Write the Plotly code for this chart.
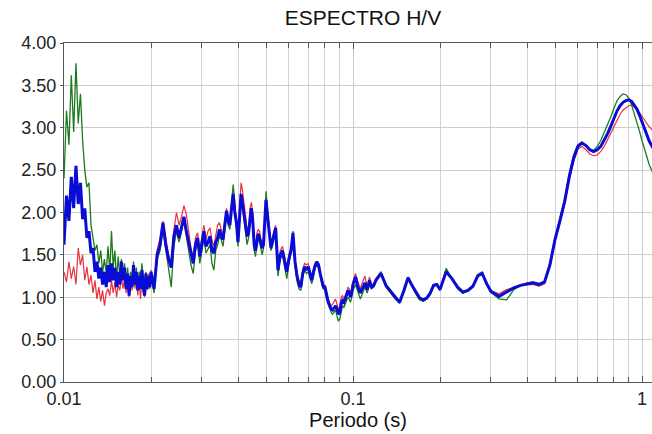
import plotly.graph_objects as go

# Periods (s)
periodo = [
    0.0100, 0.0102, 0.0104, 0.0106, 0.0108, 0.0110, 0.0112, 0.0114, 0.0116, 0.0118,
    0.0120, 0.0122, 0.0124, 0.0126, 0.0128, 0.0130, 0.0132, 0.0134, 0.0136, 0.0138,
    0.0140, 0.0142, 0.0144, 0.0146, 0.0148, 0.0150, 0.0152, 0.0154, 0.0156, 0.0158,
    0.0160, 0.0162, 0.0164, 0.0166, 0.0168, 0.0170, 0.0172, 0.0174, 0.0176, 0.0178,
    0.0180, 0.0182, 0.0184, 0.0186, 0.0188, 0.0190, 0.0192, 0.0194, 0.0196, 0.0198,
    0.0200,
    0.0205, 0.0210, 0.0215, 0.0220, 0.0225, 0.0230, 0.0235, 0.0240, 0.0245, 0.0250,
    0.0255, 0.0260, 0.0265, 0.0270, 0.0275, 0.0280, 0.0285, 0.0290, 0.0295, 0.0300,
    0.0305, 0.0310, 0.0315, 0.0320, 0.0325, 0.0330, 0.0335, 0.0340, 0.0345, 0.0350,
    0.0355, 0.0360, 0.0365, 0.0370, 0.0375, 0.0380, 0.0385, 0.0390, 0.0395, 0.0400,
    0.0405, 0.0410, 0.0415, 0.0420, 0.0425, 0.0430, 0.0435, 0.0440, 0.0445, 0.0450,
    0.0455, 0.0460, 0.0465, 0.0470, 0.0475, 0.0480, 0.0485, 0.0490, 0.0495, 0.0500,
    0.051, 0.052, 0.053, 0.054, 0.055, 0.056, 0.057, 0.058, 0.059, 0.060,
    0.061, 0.062, 0.063, 0.064, 0.065, 0.066, 0.067, 0.068, 0.069, 0.070,
    0.071, 0.072, 0.073, 0.074, 0.075, 0.076, 0.077, 0.078, 0.079, 0.080,
    0.081, 0.082, 0.083, 0.084, 0.085, 0.086, 0.087, 0.088, 0.089, 0.090,
    0.091, 0.092, 0.093, 0.094, 0.095, 0.096, 0.097, 0.098, 0.099, 0.100,
    0.102, 0.104, 0.106, 0.108, 0.110, 0.112, 0.114, 0.116, 0.118, 0.120,
    0.125, 0.130, 0.135, 0.140, 0.145, 0.150, 0.155, 0.160, 0.165, 0.170,
    0.175, 0.180, 0.185, 0.190, 0.195, 0.200,
    0.21, 0.22, 0.23, 0.24, 0.25, 0.26, 0.27, 0.28, 0.29, 0.30,
    0.32, 0.34, 0.36, 0.38, 0.40, 0.42, 0.44, 0.46, 0.48, 0.50,
    0.52, 0.54, 0.56, 0.58, 0.60, 0.62, 0.64, 0.66, 0.68, 0.70,
    0.72, 0.74, 0.76, 0.78, 0.80, 0.82, 0.84, 0.86, 0.88, 0.90,
    0.92, 0.94, 0.96, 0.98, 1.00, 1.02, 1.04, 1.06, 1.08, 1.10,
]

hv_azul = [
    1.62, 2.20, 1.90, 2.42, 2.05, 2.55, 2.10, 2.35, 1.92, 2.05,
    1.70, 1.78, 1.52, 1.58, 1.30, 1.42, 1.22, 1.35, 1.15, 1.30,
    1.12, 1.38, 1.18, 1.40, 1.20, 1.35, 1.12, 1.30, 1.15, 1.42,
    1.20, 1.35, 1.10, 1.28, 1.02, 1.25, 1.12, 1.38, 1.15, 1.30,
    1.08, 1.25, 1.10, 1.32, 1.12, 1.02, 1.28, 1.10, 1.25, 1.12,
    1.30,
    1.10, 1.50, 1.62, 1.88, 1.62, 1.45, 1.35, 1.72, 1.85, 1.70,
    1.82, 1.95, 1.78, 1.65, 1.50, 1.40, 1.62, 1.70, 1.48, 1.62,
    1.78, 1.60, 1.65, 1.72, 1.55, 1.52, 1.65, 1.70, 1.80, 1.72,
    1.68, 1.85, 2.02, 1.90, 1.85, 2.05, 2.22, 2.00, 1.88, 1.65,
    1.95, 2.22, 2.10, 1.95, 1.85, 1.72, 1.75, 1.95, 2.05, 1.90,
    1.62, 1.55, 1.68, 1.75, 1.70, 1.62, 1.58, 1.62, 1.85, 2.15,
    1.85, 1.58, 1.70, 1.82, 1.32, 1.50, 1.55, 1.40, 1.30, 1.45,
    1.55, 1.76, 1.42, 1.25, 1.15, 1.12, 1.28, 1.36, 1.32, 1.36,
    1.26, 1.20, 1.30, 1.38, 1.42, 1.38, 1.28, 1.18, 1.12, 1.12,
    1.02, 0.95, 0.90, 0.86, 0.85, 0.88, 0.90, 0.86, 0.80, 0.82,
    0.92, 0.96, 0.94, 0.98, 1.02, 1.08, 1.05, 1.00, 1.06, 1.15,
    1.24, 1.12, 1.05, 1.12, 1.17, 1.09, 1.20, 1.12, 1.14, 1.20,
    1.28, 1.14, 1.07, 1.00, 0.94, 1.08, 1.23, 1.14, 1.06, 0.99,
    0.97, 0.99, 1.05, 1.14, 1.15, 1.09,
    1.30, 1.22, 1.12, 1.06, 1.08, 1.13, 1.25, 1.28, 1.16, 1.07,
    1.01, 1.06, 1.11, 1.14, 1.16, 1.17, 1.15, 1.18, 1.38, 1.68,
    1.90, 2.13, 2.42, 2.64, 2.78, 2.82, 2.79, 2.74, 2.72, 2.74,
    2.78, 2.85, 2.93, 3.02, 3.12, 3.20, 3.26, 3.30, 3.32, 3.33,
    3.31, 3.27, 3.22, 3.15, 3.07, 2.98, 2.90, 2.84, 2.79, 2.74,
]

hv_rojo = [
    1.30, 1.18, 1.42, 1.22, 1.36, 1.15, 1.58, 1.38, 1.50, 1.20,
    1.36, 1.15, 1.26, 1.05, 1.20, 0.98, 1.12, 0.95, 1.08, 0.90,
    1.05, 1.10, 1.02, 1.20, 1.05, 1.18, 1.00, 1.15, 1.08, 1.25,
    1.10, 1.22, 1.05, 1.18, 1.00, 1.20, 1.08, 1.30, 1.10, 1.25,
    1.02, 1.20, 0.98, 1.22, 1.08, 1.00, 1.25, 1.08, 1.28, 1.20,
    1.32,
    1.15, 1.55, 1.70, 1.90, 1.72, 1.50, 1.42, 1.80, 2.00, 1.85,
    1.95, 2.08, 1.98, 1.75, 1.58, 1.48, 1.70, 1.76, 1.55, 1.72,
    1.85, 1.68, 1.78, 1.82, 1.68, 1.60, 1.75, 1.85, 1.88, 1.80,
    1.72, 1.90, 2.05, 1.95, 1.92, 2.10, 2.15, 2.05, 1.95, 1.75,
    2.10, 2.35, 2.25, 2.05, 1.95, 1.80, 1.82, 2.05, 2.12, 2.00,
    1.70, 1.62, 1.75, 1.80, 1.78, 1.68, 1.65, 1.68, 1.90, 2.10,
    1.88, 1.62, 1.75, 1.85, 1.38, 1.55, 1.60, 1.45, 1.35, 1.50,
    1.58, 1.72, 1.45, 1.30, 1.20, 1.18, 1.32, 1.40, 1.38, 1.40,
    1.30, 1.25, 1.32, 1.40, 1.42, 1.40, 1.30, 1.22, 1.15, 1.14,
    1.05, 0.98, 0.93, 0.90, 0.92, 0.95, 0.98, 0.92, 0.85, 0.90,
    1.00, 1.02, 0.98, 1.02, 1.05, 1.12, 1.10, 1.05, 1.10, 1.18,
    1.28, 1.18, 1.10, 1.18, 1.25, 1.12, 1.24, 1.14, 1.16, 1.22,
    1.30, 1.15, 1.08, 1.00, 0.95, 1.08, 1.24, 1.15, 1.06, 1.00,
    0.98, 1.00, 1.05, 1.14, 1.15, 1.10,
    1.32, 1.22, 1.12, 1.07, 1.09, 1.14, 1.26, 1.29, 1.17, 1.08,
    1.04, 1.09, 1.12, 1.14, 1.15, 1.15, 1.13, 1.16, 1.36, 1.66,
    1.88, 2.10, 2.38, 2.60, 2.75, 2.78, 2.74, 2.69, 2.67, 2.68,
    2.72, 2.78, 2.86, 2.94, 3.03, 3.10, 3.16, 3.21, 3.24, 3.26,
    3.27, 3.25, 3.22, 3.18, 3.14, 3.09, 3.05, 3.01, 2.98, 2.95,
]

hv_verde = [
    2.40, 3.20, 2.80, 3.62, 2.95, 3.76, 3.05, 3.40, 2.85, 2.50,
    2.30, 2.35, 1.85, 1.72, 1.55, 1.62, 1.40, 1.55, 1.30, 1.45,
    1.28, 1.60, 1.30, 1.78, 1.35, 1.55, 1.20, 1.48, 1.25, 1.45,
    1.22, 1.40, 1.15, 1.35, 1.10, 1.30, 1.18, 1.42, 1.20, 1.35,
    1.12, 1.30, 1.15, 1.40, 1.18, 1.08, 1.30, 1.15, 1.20, 1.10,
    1.25,
    1.05, 1.45, 1.55, 1.80, 1.55, 1.30, 1.12, 1.60, 1.78, 1.65,
    1.78, 1.90, 1.72, 1.55, 1.38, 1.28, 1.55, 1.65, 1.40, 1.55,
    1.70, 1.52, 1.58, 1.62, 1.40, 1.32, 1.55, 1.62, 1.72, 1.68,
    1.60, 1.80, 1.98, 1.85, 1.80, 2.10, 2.33, 2.10, 1.85, 1.60,
    1.90, 2.15, 2.05, 1.90, 1.80, 1.62, 1.70, 1.92, 2.00, 1.85,
    1.55, 1.48, 1.62, 1.70, 1.65, 1.55, 1.50, 1.58, 1.95, 2.25,
    1.90, 1.55, 1.65, 1.78, 1.25, 1.45, 1.50, 1.35, 1.22, 1.40,
    1.52, 1.78, 1.38, 1.20, 1.10, 1.08, 1.25, 1.32, 1.28, 1.30,
    1.22, 1.16, 1.25, 1.35, 1.38, 1.35, 1.25, 1.15, 1.10, 1.08,
    0.98, 0.92, 0.86, 0.82, 0.80, 0.82, 0.85, 0.78, 0.72, 0.74,
    0.85, 0.90, 0.88, 0.92, 0.96, 1.00, 0.98, 0.94, 1.00, 1.08,
    1.15, 1.05, 0.98, 1.05, 1.12, 1.05, 1.15, 1.10, 1.12, 1.18,
    1.30, 1.12, 1.05, 0.98, 0.93, 1.06, 1.22, 1.12, 1.04, 0.97,
    0.95, 0.98, 1.03, 1.12, 1.15, 1.08,
    1.34, 1.22, 1.10, 1.05, 1.08, 1.13, 1.27, 1.30, 1.16, 1.06,
    0.98, 0.97, 1.09, 1.14, 1.17, 1.18, 1.16, 1.19, 1.40, 1.70,
    1.93, 2.16, 2.46, 2.68, 2.80, 2.83, 2.78, 2.74, 2.73, 2.78,
    2.85, 2.94, 3.03, 3.13, 3.23, 3.32, 3.37, 3.40, 3.39, 3.35,
    3.27, 3.17, 3.07, 2.96, 2.85, 2.74, 2.64, 2.56, 2.50, 2.44,
]

y_ticks = [0.0, 0.5, 1.0, 1.5, 2.0, 2.5, 3.0, 3.5, 4.0]
x_major = [0.01, 0.1, 1]
x_major_text = ["0.01", "0.1", "1"]
x_minor = [0.02, 0.03, 0.04, 0.05, 0.06, 0.07, 0.08, 0.09,
           0.2, 0.3, 0.4, 0.5, 0.6, 0.7, 0.8, 0.9]

FONT = "Liberation Sans, Arial, sans-serif"

fig = go.Figure()
fig.add_trace(go.Scatter(x=periodo, y=hv_rojo, mode="lines",
                         line=dict(color="#e8303e", width=1.2), showlegend=False))
fig.add_trace(go.Scatter(x=periodo, y=hv_verde, mode="lines",
                         line=dict(color="#1b7a1b", width=1.3), showlegend=False))
fig.add_trace(go.Scatter(x=periodo, y=hv_azul, mode="lines",
                         line=dict(color="#0b0bd6", width=3), showlegend=False))

fig.update_layout(
    width=652, height=434,
    margin=dict(l=64, r=0, t=43, b=52),
    paper_bgcolor="white", plot_bgcolor="white",
    font=dict(family=FONT, size=18, color="#222222"),
    title=dict(text="ESPECTRO H/V", x=363 / 652, xanchor="center",
               y=1 - 18 / 434, yanchor="middle", yref="container",
               font=dict(family=FONT, size=21, color="#111111")),
)
fig.update_xaxes(
    type="log", range=[-2, 0.0346],
    tickmode="array", tickvals=x_major, ticktext=x_major_text,
    showgrid=True, gridcolor="#cccccc", gridwidth=1,
    minor=dict(tickmode="array", tickvals=x_minor, showgrid=True,
               gridcolor="#d4d4d4", gridwidth=1, ticks="inside",
               ticklen=5, tickcolor="#555555"),
    showline=True, linecolor="#555555", linewidth=1, mirror="ticks",
    ticks="inside", ticklen=6, tickcolor="#555555",
    title=dict(text="Periodo (s)", standoff=3, font=dict(size=20, color="#111111")),
    automargin=False,
    zeroline=False,
)
fig.update_yaxes(
    range=[0, 4], tickmode="array", tickvals=y_ticks, tickformat=".2f",
    showgrid=True, gridcolor="#cccccc", gridwidth=1,
    showline=True, linecolor="#555555", linewidth=1,
    ticks="outside", ticklen=3, tickcolor="#555555",
    automargin=False,
    zeroline=False,
)

fig.write_html("out.html")
